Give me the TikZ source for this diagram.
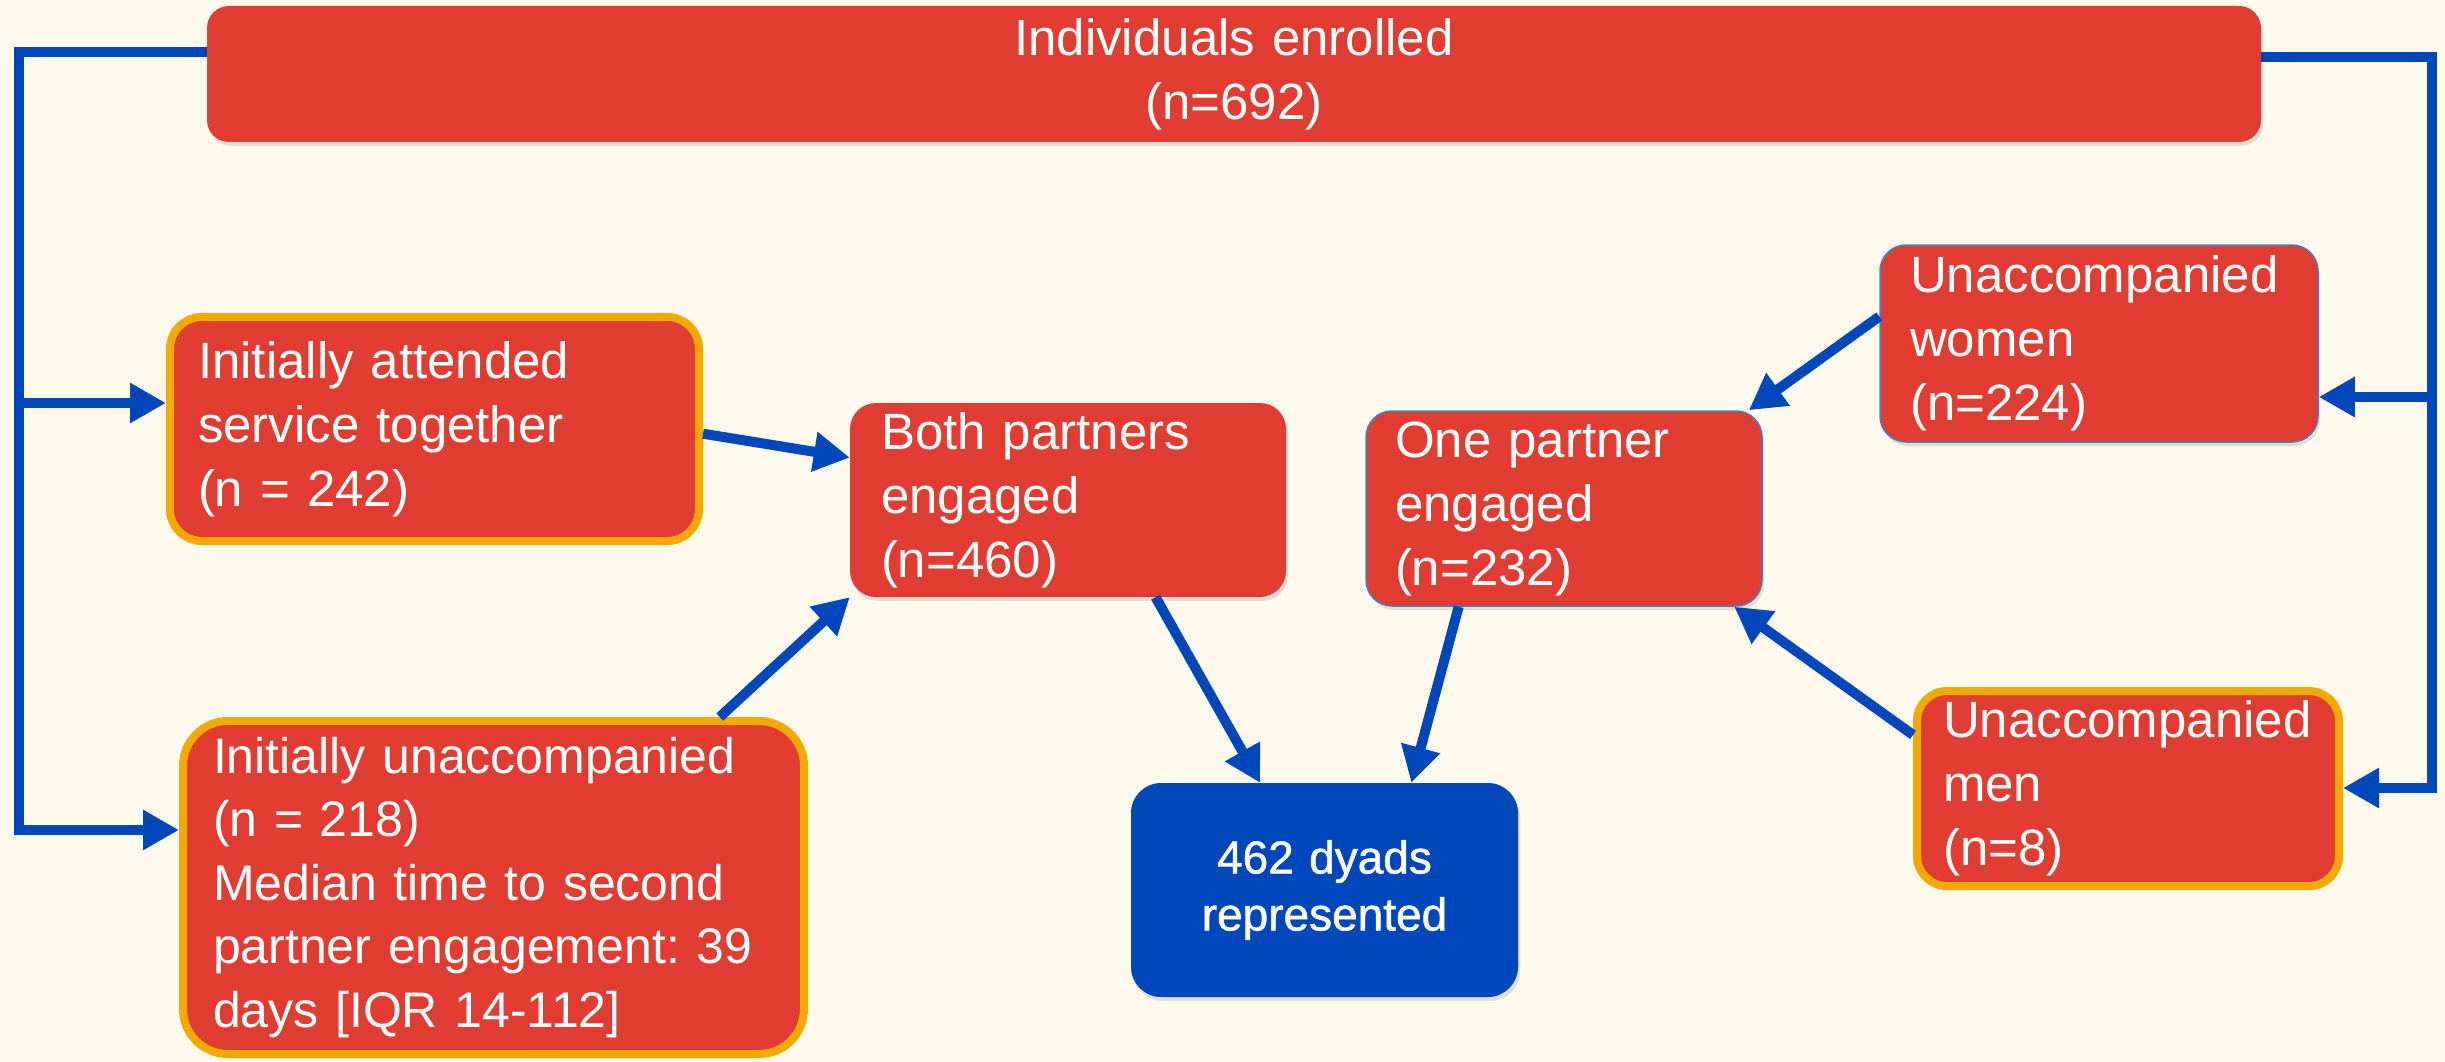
\documentclass[tikz,border=0pt]{standalone}
\usepackage{fontspec}
\setmainfont{Liberation Sans}
\newfontface\dyadfont{Liberation Sans}[FakeBold=1.2]
\usetikzlibrary{arrows.meta,shadows}
\definecolor{bgc}{HTML}{FDF9EC}
\definecolor{boxred}{HTML}{E03C31}
\definecolor{edgeor}{HTML}{F2A900}
\definecolor{arrblue}{HTML}{0047BB}
\definecolor{thinedge}{HTML}{4A7EBB}
\hyphenpenalty=10000
\exhyphenpenalty=10000
\frenchspacing
\begin{document}
\begin{tikzpicture}[x=1pt,y=-1pt,
  box/.style={rectangle, rounded corners=28pt, fill=boxred, text=white, align=left,
    inner ysep=0pt, font=\fontsize{51}{64}\selectfont,
    drop shadow={shadow xshift=2pt, shadow yshift=-4pt, opacity=0.22}},
  orangebox/.style={box, draw=edgeor, line width=8pt},
  thinbox/.style={box, draw=thinedge, line width=1.5pt},
  conn/.style={draw=arrblue, line width=10pt},
  arr/.style={conn, -{Triangle[length=36pt,width=38pt]}},
]
\fill[bgc] (0,0) rectangle (2445,1062);
\useasboundingbox (0,0) rectangle (2445,1062);

% nodes
\node[box, rounded corners=22pt, align=center, text width=2000pt, inner xsep=27pt,
  minimum height=136pt] (top) at (1234,74) {Individuals enrolled\\(n=692)};

\node[orangebox, rounded corners=32pt, text width=473pt, inner xsep=28pt,
  minimum height=224pt] (att) at (434.5,429)
  {Initially attended\\service together\\(n = 242)};

\node[orangebox, rounded corners=45pt, text width=561pt, inner xsep=30pt,
  minimum height=333pt, font=\fontsize{50}{63.5}\selectfont] (unacc) at (493.5,887.5)
  {Initially unaccompanied\\(n = 218)\\Median time to second\\partner engagement: 39\\days [IQR 14-112]};

\node[box, rounded corners=26pt, text width=374pt, inner xsep=31pt,
  minimum height=194pt] (both) at (1068,500)
  {Both partners\\engaged\\(n=460)};

\node[thinbox, rounded corners=26pt, text width=338pt, inner xsep=29pt,
  minimum height=195pt] (one) at (1564,508.5)
  {One partner\\engaged\\(n=232)};

\node[thinbox, rounded corners=26pt, text width=378pt, inner xsep=30pt,
  minimum height=197pt] (women) at (2099,343.5)
  {Unaccompanied\\women\\(n=224)};

\node[orangebox, rounded corners=30pt, text width=370pt, inner xsep=26pt,
  minimum height=195pt] (men) at (2128,788.5)
  {Unaccompanied\\men\\(n=8)};

\node[box, fill=arrblue, rounded corners=30pt, align=center, text width=347pt,
  inner xsep=20pt, minimum height=214pt, font=\fontsize{46}{57}\selectfont\dyadfont]
  (dyads) at (1324.5,890) {462 dyads\\represented};

% connector corner points
\coordinate (LT) at (19,52);
\coordinate (LA) at (19,403);
\coordinate (LU) at (19,830);
\coordinate (RT) at (2432,57);
\coordinate (RW) at (2432,397);
\coordinate (RM) at (2432,788);

\draw[arr] (top.west |- LT) -- (LT) -- (LU) -- (LU -| unacc.west);
\draw[arr] (LA) -- (LA -| att.west);
\draw[arr] (top.east |- RT) -- (RT) -- (RM) -- (RM -| men.east);
\draw[arr] (RW) -- (RW -| women.east);

\draw[arr] (att.359) -- (both.169);
\draw[arr] (unacc.37) -- (both.204);
\draw[arr] (both.312.6) -- (dyads.121.6);
\draw[arr] (one.223.2) -- (dyads.51);
\draw[arr] (women.173.3) -- (one.28.5);
\draw[arr] (men.166.1) -- (one.330.2);
\end{tikzpicture}
\end{document}
